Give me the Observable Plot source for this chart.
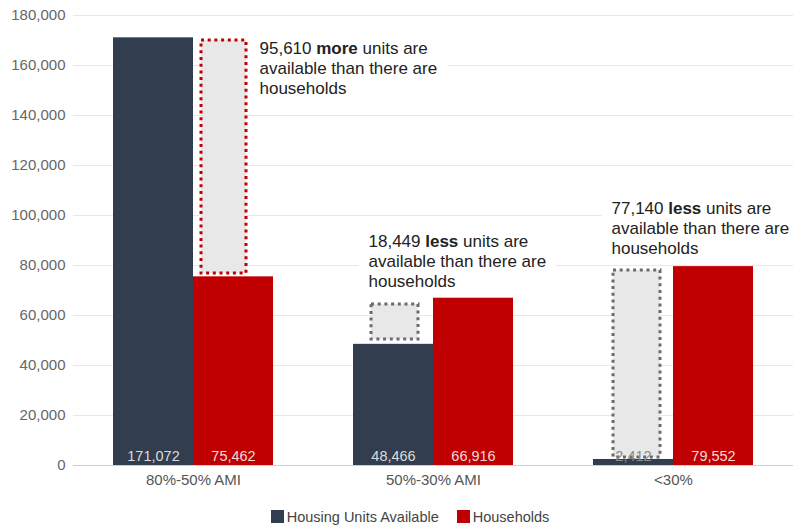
<!DOCTYPE html>
<html>
<head>
<meta charset="utf-8">
<script src="https://cdn.jsdelivr.net/npm/d3@7"></script>
<script src="https://cdn.jsdelivr.net/npm/@observablehq/plot@0.6"></script>
<style>
  body { margin: 0; background: #fff; font-family: 'Liberation Sans', Arial, sans-serif; }
  #legend { display: flex; justify-content: center; align-items: center; gap: 18px; height: 30px; margin-top: 7px; margin-left: 16px; font-size: 14.5px; color: #444; }
  #legend span.sw { display: inline-block; width: 13px; height: 13px; margin-right: 3px; vertical-align: -1px; }
</style>
</head>
<body>
<div id="chart"></div>
<div id="legend"></div>
<script>
const groups = ["80%-50% AMI", "50%-30% AMI", "<30%"];
const housingUnits = [171072, 48466, 2412];
const households = [75462, 66916, 79552];
const gapLow = [76800, 50400, 3200];
const gapHigh = [170000, 64400, 78000];
const notes = [
  "95,610 more units are\navailable than there are\nhouseholds",
  "18,449 less units are\navailable than there are\nhouseholds",
  "77,140 less units are\navailable than there are\nhouseholds"
];
const noteY = [159200, 82000, 95200];
const yTicks = [0, 20000, 40000, 60000, 80000, 100000, 120000, 140000, 160000, 180000];
const seriesNames = ["Housing Units Available", "Households"];
const colors = ["#323d4f", "#c00000"];

const rows = groups.map((g, i) => ({
  group: g, units: housingUnits[i], hh: households[i],
  lo: gapLow[i], hi: gapHigh[i], note: notes[i], noteY: noteY[i]
}));

const font = "'Liberation Sans', Arial, sans-serif";
const noteDx = [66, -65, -62];
const boxInsets = [[88, 27], [18, 95], [20, 93]];
const boxStroke = ["#c00000", "#6b6b6b"];

const marks = [
  Plot.gridY(yTicks, {stroke: "#e8e8e8", strokeOpacity: 1}),
  Plot.ruleY([0], {stroke: "#cfcfcf"}),
  Plot.axisY(yTicks, {tickSize: 0, tickPadding: 8, tickFormat: d3.format(","), fontSize: 15, fill: "#666", label: null}),
  Plot.axisX({tickSize: 0, tickPadding: 9, fontSize: 15, fill: "#555", label: null}),
  Plot.barY(rows, {x: "group", y: "units", fill: colors[0], insetRight: 80}),
  Plot.barY(rows, {x: "group", y: "hh", fill: colors[1], insetLeft: 80}),
  Plot.text(rows.slice(0, 2), {x: "group", y: 0, text: d => d3.format(",")(d.units), dx: -40, dy: -9, fill: "#dcdcdc", fontSize: 14.5}),
  Plot.text(rows, {x: "group", y: 0, text: d => d3.format(",")(d.hh), dx: 40, dy: -9, fill: "#f0dada", fontSize: 14.5})
];
rows.forEach((r, i) => {
  marks.push(Plot.barY([r], {
    x: "group", y1: "lo", y2: "hi", fill: "#e8e8e8",
    stroke: i === 0 ? boxStroke[0] : boxStroke[1], strokeWidth: 3, strokeDasharray: "3,3.7",
    insetLeft: boxInsets[i][0], insetRight: boxInsets[i][1]
  }));
});
marks.push(Plot.text(rows.slice(2), {x: "group", y: 0, text: d => d3.format(",")(d.units), dx: -40, dy: -9, fill: "#8a8a8a", fontSize: 14.5}));
rows.forEach((r, i) => {
  marks.push(Plot.text([r], {
    x: "group", y: "noteY", text: "note", dx: noteDx[i], textAnchor: "start",
    lineAnchor: "middle", lineHeight: 1.18, fontSize: 17, fill: "#222", className: "note"
  }));
});

const chart = Plot.plot({
  width: 804, height: 495,
  marginLeft: 73, marginRight: 11, marginTop: 15, marginBottom: 30,
  style: {fontFamily: font, background: "#fff"},
  x: {domain: groups, paddingInner: 1/3, paddingOuter: 1/6, axis: null},
  y: {domain: [0, 180000], axis: null},
  marks
});
document.getElementById("chart").appendChild(chart);

// bold key words and white backing boxes behind annotations
chart.querySelectorAll("g.note text").forEach(t => {
  const first = t.querySelector("tspan") || t;
  const s = first.textContent;
  const m = s.match(/^(\S+ )(more|less)( .*)$/);
  if (m) {
    first.textContent = "";
    const a = document.createElementNS("http://www.w3.org/2000/svg", "tspan"); a.textContent = m[1];
    const b = document.createElementNS("http://www.w3.org/2000/svg", "tspan"); b.textContent = m[2]; b.setAttribute("font-weight", "bold");
    const c = document.createElementNS("http://www.w3.org/2000/svg", "tspan"); c.textContent = m[3];
    first.append(a, b, c);
  }
});
chart.querySelectorAll("g.note").forEach(g => {
  const bb = g.getBBox();
  const r = document.createElementNS("http://www.w3.org/2000/svg", "rect");
  r.setAttribute("x", bb.x - 10); r.setAttribute("y", bb.y - 4);
  r.setAttribute("width", bb.width + 20); r.setAttribute("height", bb.height + 8);
  r.setAttribute("fill", "#fff");
  g.insertBefore(r, g.firstChild);
});

const legend = document.getElementById("legend");
seriesNames.forEach((n, i) => {
  const item = document.createElement("div");
  item.innerHTML = `<span class="sw" style="background:${colors[i]}"></span>${n}`;
  legend.appendChild(item);
});
</script>
</body>
</html>
